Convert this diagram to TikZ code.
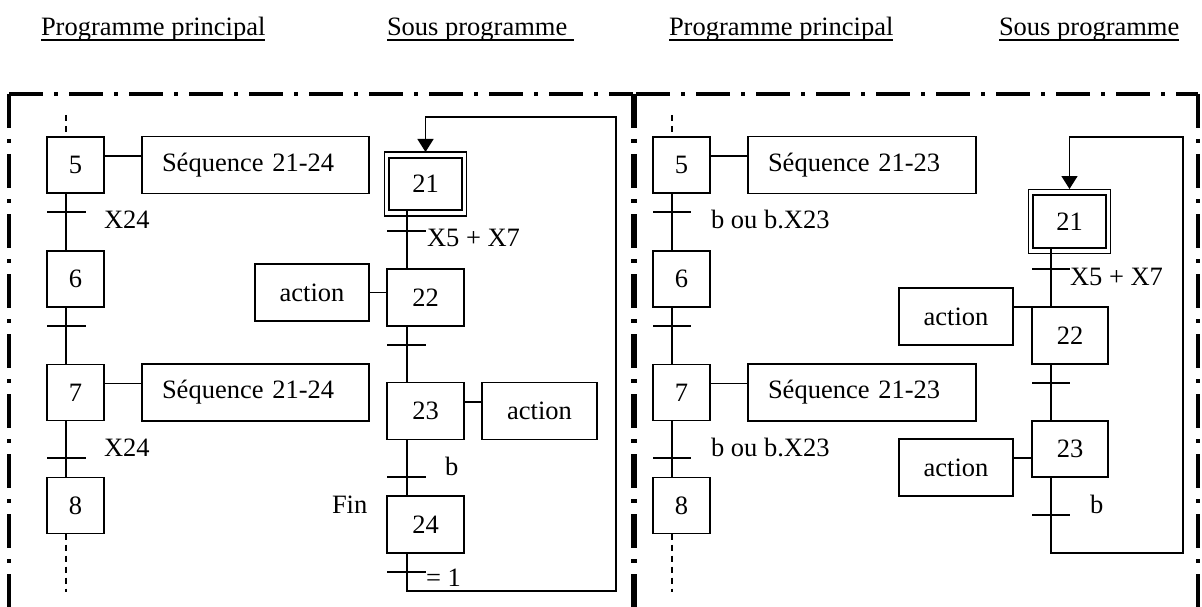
\documentclass[tikz,border=0pt]{standalone}
\usepackage{fontspec}
\setmainfont{Liberation Serif}
\usetikzlibrary{arrows.meta,calc}

\begin{document}
\begin{tikzpicture}[x=1pt,y=-1pt,
  every node/.style={font=\fontsize{26.5}{30}\selectfont, inner sep=0pt, outer sep=0pt},
  box/.style={draw, line width=1.5pt, rectangle, align=center},
  stepbox/.style={box, minimum width=57pt, minimum height=56pt},
  substep/.style={box, minimum width=77pt, minimum height=57pt},
  initstep/.style={box, line width=2.6pt, minimum width=73pt, minimum height=52pt},
  initframe/.style={draw, line width=1.6pt},
  seqbox/.style={box, minimum height=57pt, text width=187pt, align=left, inner xsep=20pt},
  actbox/.style={box, minimum width=114pt, minimum height=57pt},
  link/.style={line width=1.5pt},
  tick/.style={line width=1.5pt},
  cont/.style={line width=1.5pt, dash pattern=on 6pt off 5pt},
  frame/.style={line width=3.6pt, dash pattern=on 34pt off 11pt on 4pt off 11pt},
  lbl/.style={anchor=base west},
  title/.style={anchor=base west},
  uline/.style={line width=1.5pt},
  arr/.style={-{Triangle[length=13pt,width=16pt]}}
]
\useasboundingbox (0,0) rectangle (1202,607);

% ---------- headings ----------
\node[title] (h1) at (41,36) {Programme principal};
\node[title] (h2) at (387,36) {Sous programme};
\node[title] (h3) at (669,36) {Programme principal};
\node[title] (h4) at (999,36) {Sous programme};
\draw[uline] ([shift={(0,4)}]h1.base west) -- ([shift={(0,4)}]h1.base east);
\draw[uline] ([shift={(0,4)}]h2.base west) -- ([shift={(7,4)}]h2.base east);
\draw[uline] ([shift={(0,4)}]h3.base west) -- ([shift={(0,4)}]h3.base east);
\draw[uline] ([shift={(0,4)}]h4.base west) -- ([shift={(0,4)}]h4.base east);

% ---------- dash-dot frames ----------
\draw[frame] (9,94) -- (633,94);
\draw[frame] (9,94) -- (9,607);
\draw[frame] (633,94) -- (633,607);
\draw[frame] (636,94) -- (1198,94);
\draw[frame] (635,94) -- (635,607);
\draw[frame] (1198,94) -- (1198,607);

% ================= left half =================
% main program
\coordinate (ml) at (66,0);
\node[stepbox] (s5) at (75.5,165) {5};
\node[stepbox] (s6) at (75.5,279) {6};
\node[stepbox] (s7) at (75.5,392.5) {7};
\node[stepbox] (s8) at (75.5,505.5) {8};
\node[seqbox] (q5) at (255.5,165) {Séquence 21-24};
\node[seqbox] (q7) at (255.5,392.5) {Séquence 21-24};
\coordinate (ptop) at (66,115);
\coordinate (pbot) at (66,592);
\draw[cont] (ptop) -- (s5.north -| ml);
\draw[link] (s5.south -| ml) -- (s6.north -| ml);
\draw[link] (s6.south -| ml) -- (s7.north -| ml);
\draw[link] (s7.south -| ml) -- (s8.north -| ml);
\draw[cont] (s8.south -| ml) -- (pbot);
\draw[link] ([yshift=9pt]s5.east) -- ([yshift=9pt]q5.west);
\draw[link] ([yshift=9pt]s7.east) -- ([yshift=9pt]q7.west);
\foreach \y in {212,326,458} \draw[tick] (47,\y) -- (86,\y);
\node[lbl] (c1) at (104,228) {X24};
\node[lbl] (c2) at (104,456) {X24};

% sub-program
\coordinate (sl) at (407,0);
\node[initstep] (u21) at (425.5,184) {21};
\draw[initframe] ([shift={(-4.5,-6)}]u21.north west) rectangle ([shift={(4.5,6)}]u21.south east);
\node[substep] (u22) at (425.5,297.5) {22};
\node[substep] (u23) at (425.5,411) {23};
\node[substep] (u24) at (425.5,524.5) {24};
\node[actbox] (a22) at (312,292.5) {action};
\node[actbox, minimum width=115pt] (a23) at (539.5,411) {action};
\draw[link] (u21.south -| sl) -- (u22.north -| sl);
\draw[link] (u22.south -| sl) -- (u23.north -| sl);
\draw[link] (u23.south -| sl) -- (u24.north -| sl);
\draw[link] (a22.east) -- (a22.east -| u22.west);
\draw[link] ([yshift=9pt]u23.east) -- ([yshift=9pt]a23.west);
\foreach \y in {231,345,477,572} \draw[tick] (387,\y) -- (426,\y);
\coordinate (la) at (616,591);
\coordinate (lb) at (616,117);
\draw[link, arr] (u24.south -| sl) |- (la) -- (lb) -| ([yshift=6pt]u21.north);
\node[lbl] (c3) at (427,246.5) {X5 + X7};
\node[lbl] (c4) at (445,475) {b};
\node[lbl] (c5) at (332,513) {Fin};
\node[lbl] (c6) at (426,586.5) {= 1};

% ================= right half =================
% main program
\coordinate (mr) at (672,0);
\node[stepbox] (r5) at (681.5,165) {5};
\node[stepbox] (r6) at (681.5,279) {6};
\node[stepbox] (r7) at (681.5,392.5) {7};
\node[stepbox] (r8) at (681.5,505.5) {8};
\node[seqbox, text width=188pt] (p5) at (862,165) {Séquence 21-23};
\node[seqbox, text width=188pt] (p7) at (862,392.5) {Séquence 21-23};
\coordinate (rtop) at (672,115);
\coordinate (rbot) at (672,592);
\draw[cont] (rtop) -- (r5.north -| mr);
\draw[link] (r5.south -| mr) -- (r6.north -| mr);
\draw[link] (r6.south -| mr) -- (r7.north -| mr);
\draw[link] (r7.south -| mr) -- (r8.north -| mr);
\draw[cont] (r8.south -| mr) -- (rbot);
\draw[link] ([yshift=9pt]r5.east) -- ([yshift=9pt]p5.west);
\draw[link] ([yshift=9pt]r7.east) -- ([yshift=9pt]p7.west);
\foreach \y in {212,326,458} \draw[tick] (653,\y) -- (691,\y);
\node[lbl] (d1) at (711,228) {b ou b.X23};
\node[lbl] (d2) at (711,456) {b ou b.X23};

% sub-program
\coordinate (sr) at (1051,0);
\node[initstep, minimum height=53pt] (v21) at (1069.5,221.5) {21};
\draw[initframe] ([shift={(-4.5,-5.5)}]v21.north west) rectangle ([shift={(4.5,5.5)}]v21.south east);
\node[substep, minimum width=76pt] (v22) at (1070,335.5) {22};
\node[substep, minimum width=76pt, minimum height=56pt] (v23) at (1070,449) {23};
\node[actbox] (b22) at (956,316.5) {action};
\node[actbox] (b23) at (956,467.5) {action};
\draw[link] (v21.south -| sr) -- (v22.north -| sr);
\draw[link] (v22.south -| sr) -- (v23.north -| sr);
\draw[link] (b22.east |- v22.north) -- (v22.north west);
\coordinate (j23) at ($(v23.west)+(0,9)$);
\draw[link] (j23 -| b23.east) -- (j23);
\foreach \y in {269,383,515} \draw[tick] (1032,\y) -- (1070,\y);
\coordinate (ra) at (1183,553);
\coordinate (rb) at (1183,137);
\draw[link, arr] (v23.south -| sr) |- (ra) -- (rb) -| ([yshift=6pt]v21.north);
\node[lbl] (d3) at (1070,285) {X5 + X7};
\node[lbl] (d4) at (1090,513) {b};
\end{tikzpicture}
\end{document}
